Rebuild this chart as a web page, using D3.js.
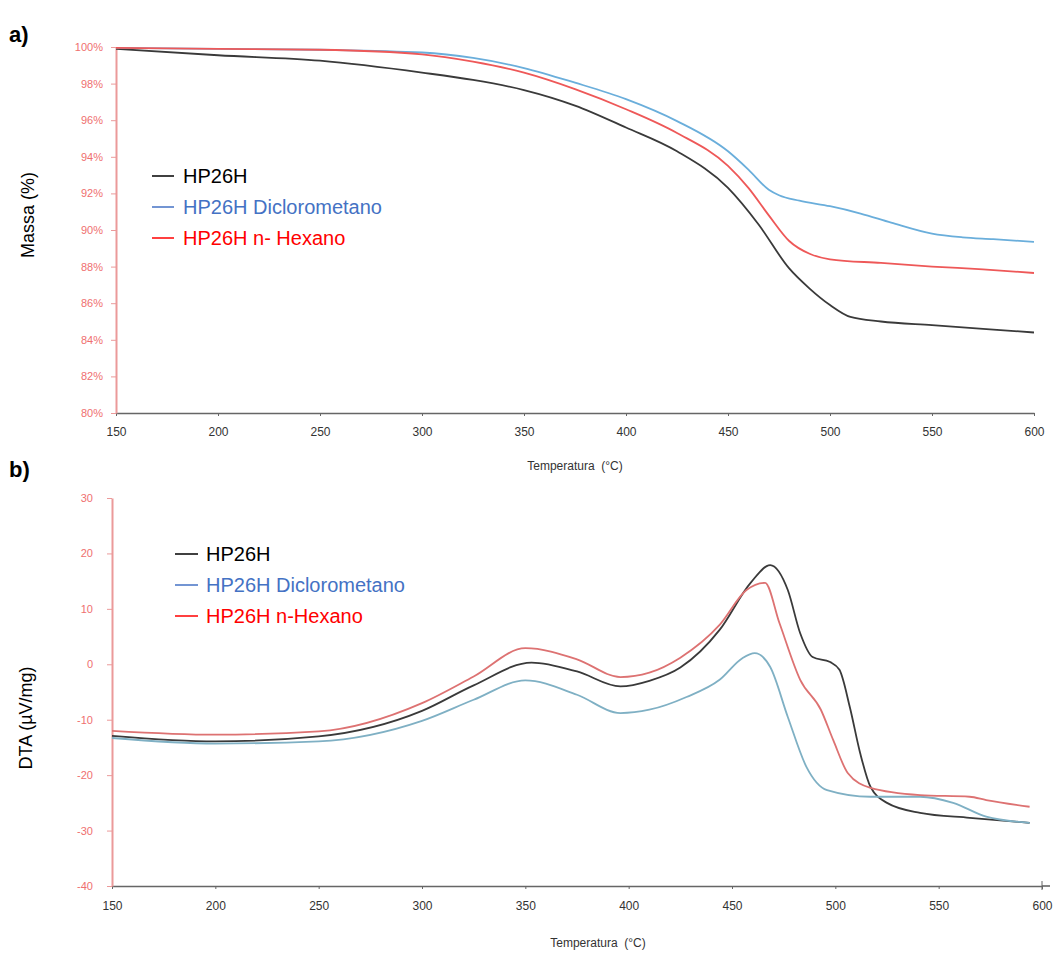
<!DOCTYPE html>
<html>
<head>
<meta charset="utf-8">
<script src="https://cdn.jsdelivr.net/npm/d3@7"></script>
<style>
  body { margin: 0; background: #fff; }
  svg { font-family: Arial, "Liberation Sans", sans-serif; }
  .yax path, .yax line { stroke: #eb9a9a; }
  .yax text { fill: #ef6f6f; font-size: 11px; }
  .xax path, .xax line { stroke: #666; }
  .xax text { fill: #333; font-size: 12px; }
</style>
</head>
<body>
<div id="chart"></div>
<script>
var svgWidth = 1059;
var svgHeight = 953;

var seriesNames = ["HP26H", "HP26H Diclorometano", "HP26H n- Hexano"];
var seriesNamesB = ["HP26H", "HP26H Diclorometano", "HP26H n-Hexano"];
var legendColors = ["#000000", "#4472c4", "#ff0000"];
var lineColorsA = ["#3a3a3a", "#6aaedb", "#ee5858"];
var lineColorsB = ["#3a3a3a", "#7fb0c4", "#dd7272"];

var xTicks = [150, 200, 250, 300, 350, 400, 450, 500, 550, 600];
var massTicks = [80, 82, 84, 86, 88, 90, 92, 94, 96, 98, 100];
var dtaTicks = [-40, -30, -20, -10, 0, 10, 20, 30];

// a) mass (%)
var massTemp = [150, 200, 250, 300, 325, 350, 375, 400, 425, 450, 465, 480, 490, 500, 510, 525, 550, 575, 600];
var massBlack = [99.9, 99.55, 99.25, 98.6, 98.2, 97.65, 96.8, 95.6, 94.3, 92.3, 90.3, 87.9, 86.8, 85.9, 85.25, 85.0, 84.8, 84.6, 84.4];
var massTempB = [150, 200, 250, 300, 325, 350, 375, 400, 425, 450, 460, 470, 475, 485, 500, 515, 530, 550, 565, 580, 600];
var massBlue = [99.95, 99.9, 99.85, 99.7, 99.4, 98.85, 98.05, 97.15, 95.95, 94.3, 93.3, 92.2, 91.9, 91.6, 91.3, 90.9, 90.4, 89.8, 89.6, 89.5, 89.35];
var massTempR = [150, 200, 250, 300, 325, 350, 375, 400, 425, 450, 460, 470, 480, 490, 500, 525, 550, 575, 600];
var massRed = [99.95, 99.9, 99.85, 99.6, 99.2, 98.6, 97.7, 96.6, 95.3, 93.5, 92.3, 90.8, 89.4, 88.7, 88.4, 88.2, 88.0, 87.85, 87.65];

// b) DTA (uV/mg)
var dtaTempK = [150, 200, 250, 300, 325, 353, 375, 396, 410, 425, 444, 459, 468.5, 477, 483, 489, 497.5, 502, 507, 512, 517, 525, 541, 565, 594];
var dtaBlack = [-12.9, -13.9, -13.0, -8.4, -3.8, 0.3, -1.3, -4.0, -3.0, -0.6, 6.2, 14.7, 17.9, 13.4, 5.6, 1.3, 0.4, -1.0, -7.7, -16.0, -22.1, -25.0, -26.8, -27.7, -28.6];
var dtaTempB = [150, 200, 250, 300, 325, 350, 375, 396, 410, 428, 444, 455, 461, 468.5, 477, 486, 496, 517, 541, 557, 573, 594];
var dtaBlue = [-13.3, -14.3, -13.9, -10.2, -6.4, -2.9, -5.5, -8.8, -8.2, -5.9, -2.8, 1.1, 2.0, -0.5, -9.5, -18.5, -22.7, -23.9, -23.9, -25.0, -27.5, -28.6];
var dtaTempR = [150, 200, 250, 300, 325, 350, 375, 396, 410, 425, 444, 457, 466, 473, 483, 493, 499, 506, 517, 541, 565, 573, 594];
var dtaRed = [-12.0, -12.7, -12.1, -7.0, -2.2, 2.9, 0.9, -2.3, -1.5, 1.2, 7.1, 13.4, 14.7, 7.4, -2.8, -8.2, -13.7, -19.6, -22.3, -23.6, -23.9, -24.5, -25.7];

var svg = d3.select("#chart")
  .append("svg")
  .attr("width", svgWidth)
  .attr("height", svgHeight);

function zip(xs, ys) {
  return xs.map((x, i) => ({ t: x, v: ys[i] }));
}

function drawPanel(opt) {
  var x = d3.scaleLinear().domain([150, 600]).range(opt.xRange);
  var y = d3.scaleLinear().domain(opt.yDomain).range(opt.yRange);

  var g = svg.append("g");

  // x axis
  var xAxis = g.append("g")
    .attr("class", "xax")
    .attr("transform", `translate(0, ${opt.yRange[0]})`)
    .call(d3.axisBottom(x).tickValues(xTicks).tickSize(3).tickPadding(opt.xPad).tickSizeOuter(0));
  xAxis.select(".domain").attr("stroke-width", 1.6);
  if (opt.arrow) {
    xAxis.append("line")
      .attr("x1", opt.xRange[1]).attr("x2", opt.xRange[1] + 8)
      .attr("y1", 0).attr("y2", 0)
      .attr("stroke", "#666").attr("stroke-width", 1.6);
    xAxis.append("line")
      .attr("x1", opt.xRange[1]).attr("x2", opt.xRange[1])
      .attr("y1", -5).attr("y2", 4)
      .attr("stroke", "#666");
  }

  // y axis
  var yAxis = g.append("g")
    .attr("class", "yax")
    .attr("transform", `translate(${opt.xRange[0]}, 0)`)
    .call(d3.axisLeft(y).tickValues(opt.yTicks).tickSize(5).tickPadding(opt.yPad).tickSizeOuter(0).tickFormat(opt.fmt));
  yAxis.select(".domain").attr("stroke-width", 2);

  var line = d3.line()
    .x(d => x(d.t))
    .y(d => y(d.v))
    .curve(d3.curveMonotoneX);

  opt.series.forEach((s, i) => {
    g.append("path")
      .datum(s)
      .attr("fill", "none")
      .attr("stroke", opt.colors[i])
      .attr("stroke-width", 1.8)
      .attr("d", line);
  });

  // x title
  g.append("text")
    .attr("x", opt.xTitle[0])
    .attr("y", opt.xTitle[1])
    .attr("text-anchor", "middle")
    .attr("font-size", 12)
    .attr("fill", "#333")
    .attr("xml:space", "preserve")
    .text("Temperatura  (°C)");

  // y title
  g.append("text")
    .attr("transform", `translate(${opt.yTitle[0]}, ${opt.yTitle[1]}) rotate(-90)`)
    .attr("text-anchor", "middle")
    .attr("font-size", 18)
    .attr("fill", "#000")
    .text(opt.yLabel);

  // legend
  var leg = g.append("g");
  opt.names.forEach((n, i) => {
    var ly = opt.legend.y + i * opt.legend.step;
    leg.append("line")
      .attr("x1", opt.legend.x).attr("x2", opt.legend.x + opt.legend.dash)
      .attr("y1", ly).attr("y2", ly)
      .attr("stroke", legendColors[i]).attr("stroke-width", 1.5);
    leg.append("text")
      .attr("x", opt.legend.tx)
      .attr("y", ly + 7)
      .attr("font-size", 20)
      .attr("fill", legendColors[i])
      .text(n);
  });

  // panel label
  g.append("text")
    .attr("x", 9)
    .attr("y", opt.tag[1])
    .attr("font-size", 22)
    .attr("font-weight", "bold")
    .text(opt.tag[0]);
}

drawPanel({
  xRange: [116, 1034],
  yDomain: [80, 100],
  yRange: [413, 47],
  yTicks: massTicks,
  fmt: d => d + "%",
  xPad: 11,
  yPad: 8,
  series: [zip(massTemp, massBlack), zip(massTempB, massBlue), zip(massTempR, massRed)],
  colors: lineColorsA,
  xTitle: [575, 470],
  yTitle: [34, 215],
  yLabel: "Massa (%)",
  names: seriesNames,
  legend: { x: 152, dash: 22, tx: 183, y: 176, step: 31 },
  tag: ["a)", 42],
  arrow: false
});

drawPanel({
  xRange: [112, 1042],
  yDomain: [-40, 30],
  yRange: [886, 498],
  yTicks: dtaTicks,
  fmt: d => d,
  xPad: 12,
  yPad: 14,
  series: [zip(dtaTempK, dtaBlack), zip(dtaTempB, dtaBlue), zip(dtaTempR, dtaRed)],
  colors: lineColorsB,
  xTitle: [598, 947],
  yTitle: [32, 718],
  yLabel: "DTA (µV/mg)",
  names: seriesNamesB,
  legend: { x: 175, dash: 23, tx: 206, y: 554, step: 31 },
  tag: ["b)", 477],
  arrow: true
});
</script>
</body>
</html>
